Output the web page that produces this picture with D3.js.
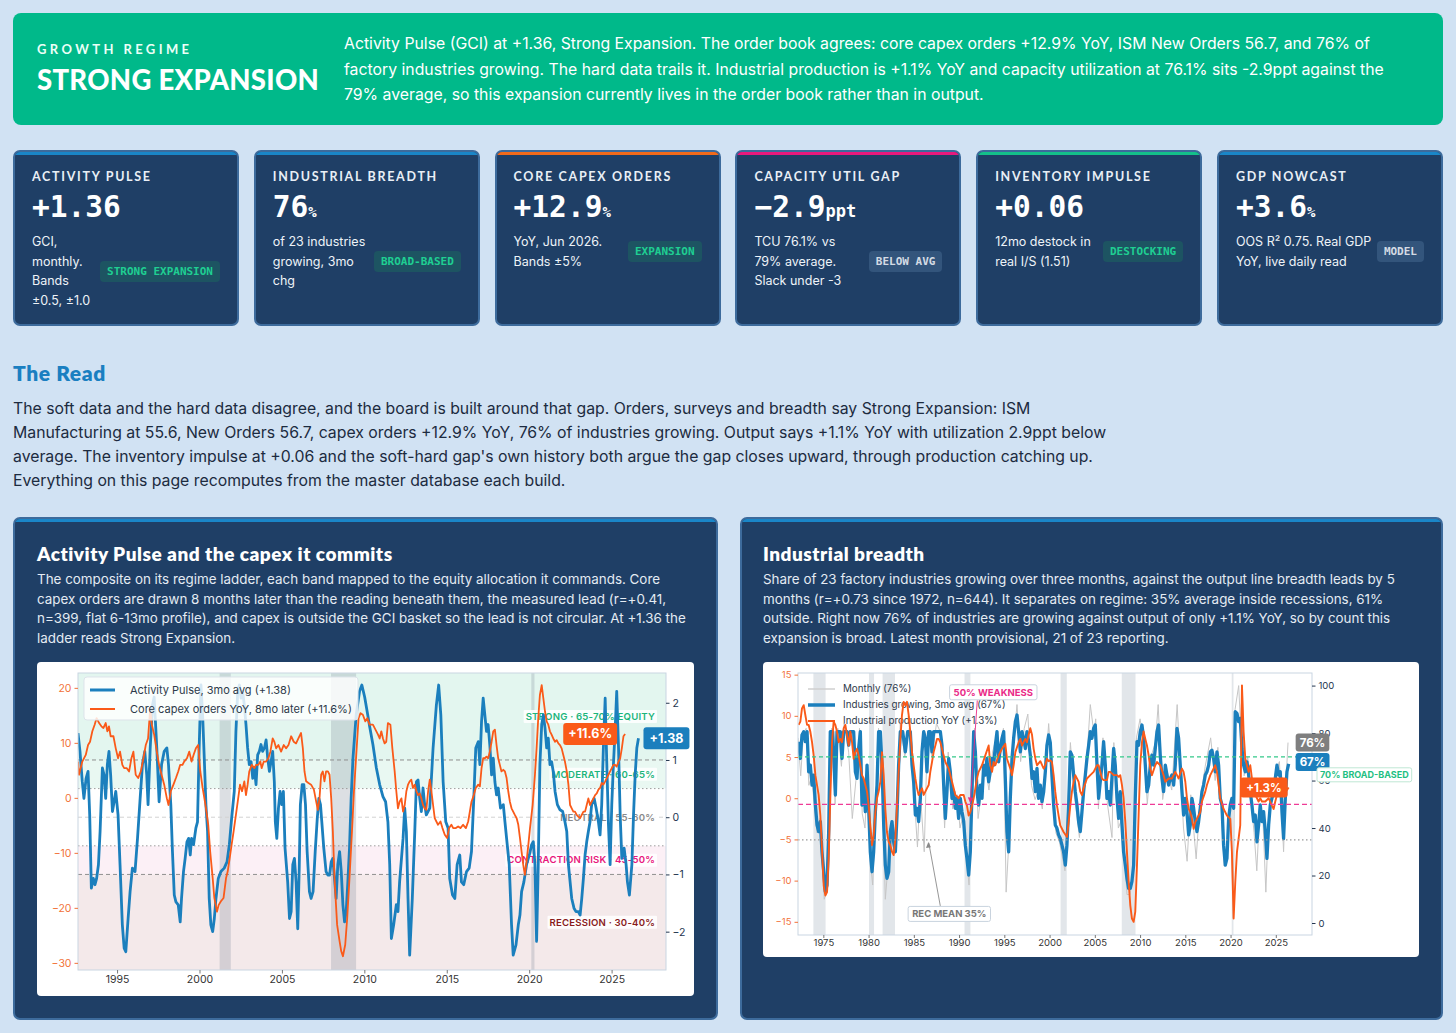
<!DOCTYPE html>
<html>
<head>
<meta charset="utf-8">
<script src="https://cdn.jsdelivr.net/npm/d3@7"></script>
<style>
body{margin:0;background:#d1e2f3;font-family:Inter,"Noto Sans",sans-serif;}
#page{position:relative;width:1456px;height:1033px;overflow:hidden;background:#d1e2f3;}
.abs{position:absolute;}
.banner{left:13px;top:13px;width:1430px;height:112px;background:#00b98a;border-radius:8px;}
.kicker{left:37px;top:41px;font:700 13px Lato,sans-serif;letter-spacing:3.4px;color:#eafff7;line-height:16px;}
.regime{left:37px;top:64px;font:900 27.5px Lato,sans-serif;color:#fff;line-height:32px;letter-spacing:0.3px;}
.bantext{left:344px;top:31px;font-size:15.8px;line-height:25.5px;color:#fff;white-space:nowrap;}
.card{top:150px;width:226px;height:176px;box-sizing:border-box;background:#1f3f66;border:2px solid #3d6b9c;border-radius:7px;overflow:hidden;}
.accent{position:absolute;left:0;right:0;top:0;height:3px;}
.klabel{position:absolute;left:17px;top:18px;font:700 12.5px Lato,sans-serif;letter-spacing:1.7px;color:#e9eff6;line-height:14px;white-space:nowrap;}
.kval{position:absolute;left:17px;top:39px;font:700 29.5px "DejaVu Sans Mono",monospace;color:#fff;line-height:32px;white-space:nowrap;}
.krow{position:absolute;left:17px;right:17px;top:80px;display:flex;align-items:center;justify-content:space-between;}
.kdesc{font-size:12.5px;line-height:19.5px;color:#eef3f8;white-space:nowrap;}
.badge{font:700 11px "DejaVu Sans Mono",monospace;padding:0 7px;height:21px;line-height:21px;border-radius:4px;white-space:nowrap;}
.badge.green{color:#1fcf92;background:#1d5462;}
.badge.grey{color:#d4dbe4;background:#33557c;}
.readh{left:13px;top:361px;font:800 21px Lato,sans-serif;color:#1a7fc1;line-height:24px;letter-spacing:0.6px;}
.readp{left:13px;top:397px;font-size:15.8px;line-height:24px;color:#1c2b40;white-space:nowrap;}
.panel{top:517px;height:503px;box-sizing:border-box;background:#1f3f66;border:2px solid #3d6b9c;border-radius:7px;overflow:hidden;}
.panel .accent{background:#1a86c8;}
.ptitle{top:543px;font:800 19px Lato,sans-serif;color:#fff;line-height:22px;white-space:nowrap;letter-spacing:0.5px;}
.pdesc{top:570px;font-size:13.4px;line-height:19.5px;color:#e4ebf3;white-space:nowrap;}
.cbox{background:#fff;border-radius:4px;overflow:hidden;}
svg text{font-family:Inter,"Noto Sans",sans-serif;}
</style>
</head>
<body>
<div id="page">
  <div class="abs banner"></div>
  <div class="abs kicker">GROWTH REGIME</div>
  <div class="abs regime">STRONG EXPANSION</div>
  <div class="abs bantext" id="bantext"></div>
  <div class="abs readh">The Read</div>
  <div class="abs readp" id="readp"></div>
  <div class="abs panel" style="left:13px;width:705px"><div class="accent"></div></div>
  <div class="abs panel" style="left:740px;width:703px"><div class="accent"></div></div>
  <div class="abs ptitle" style="left:37px">Activity Pulse and the capex it commits</div>
  <div class="abs ptitle" style="left:763px">Industrial breadth</div>
  <div class="abs pdesc" id="desc1" style="left:37px"></div>
  <div class="abs pdesc" id="desc2" style="left:763px"></div>
  <div class="abs cbox" style="left:37px;top:662px;width:657px;height:334px"><svg id="chart1"></svg></div>
  <div class="abs cbox" style="left:763px;top:662px;width:656px;height:295px"><svg id="chart2"></svg></div>
</div>
<script>
// ---------- text ----------
const bannerLines = [
  "Activity Pulse (GCI) at +1.36, Strong Expansion. The order book agrees: core capex orders +12.9% YoY, ISM New Orders 56.7, and 76% of",
  "factory industries growing. The hard data trails it. Industrial production is +1.1% YoY and capacity utilization at 76.1% sits -2.9ppt against the",
  "79% average, so this expansion currently lives in the order book rather than in output."
];
const readLines = [
  "The soft data and the hard data disagree, and the board is built around that gap. Orders, surveys and breadth say Strong Expansion: ISM",
  "Manufacturing at 55.6, New Orders 56.7, capex orders +12.9% YoY, 76% of industries growing. Output says +1.1% YoY with utilization 2.9ppt below",
  "average. The inventory impulse at +0.06 and the soft-hard gap's own history both argue the gap closes upward, through production catching up.",
  "Everything on this page recomputes from the master database each build."
];
const pulseDesc = [
  "The composite on its regime ladder, each band mapped to the equity allocation it commands. Core",
  "capex orders are drawn 8 months later than the reading beneath them, the measured lead (r=+0.41,",
  "n=399, flat 6-13mo profile), and capex is outside the GCI basket so the lead is not circular. At +1.36 the",
  "ladder reads Strong Expansion."
];
const breadthDesc = [
  "Share of 23 factory industries growing over three months, against the output line breadth leads by 5",
  "months (r=+0.73 since 1972, n=644). It separates on regime: 35% average inside recessions, 61%",
  "outside. Right now 76% of industries are growing against output of only +1.1% YoY, so by count this",
  "expansion is broad. Latest month provisional, 21 of 23 reporting."
];

// ---------- KPI cards ----------
const kpiLabels = ["ACTIVITY PULSE","INDUSTRIAL BREADTH","CORE CAPEX ORDERS","CAPACITY UTIL GAP","INVENTORY IMPULSE","GDP NOWCAST"];
const kpiValues = ["+1.36","76","+12.9","\u22122.9","+0.06","+3.6"];
const kpiUnits = ["","%","%","ppt","","%"];
const kpiDesc = [
  ["GCI,","monthly.","Bands","\u00b10.5, \u00b11.0"],
  ["of 23 industries","growing, 3mo","chg"],
  ["YoY, Jun 2026.","Bands \u00b15%"],
  ["TCU 76.1% vs","79% average.","Slack under -3"],
  ["12mo destock in","real I/S (1.51)"],
  ["OOS R\u00b2 0.75. Real GDP","YoY, live daily read"]
];
const kpiBadges = ["STRONG EXPANSION","BROAD-BASED","EXPANSION","BELOW AVG","DESTOCKING","MODEL"];

// ---------- chart 1: Activity Pulse (right axis) and capex YoY 8mo later (left axis) ----------
const pulse = [[1992.63,1.47],[1992.75,1.15],[1992.89,0.62],[1992.99,0.33],[1993.12,0.68],[1993.24,0.80],[1993.34,0.04],[1993.44,-1.24],[1993.56,-1.07],[1993.66,-1.18],[1993.76,-1.07],[1993.87,-0.83],[1993.97,-0.25],[1994.11,0.86],[1994.21,0.74],[1994.31,0.33],[1994.41,0.92],[1994.51,1.15],[1994.61,0.74],[1994.72,0.10],[1994.82,0.27],[1994.92,0.45],[1995.06,0.04],[1995.18,-0.83],[1995.32,-1.88],[1995.43,-2.29],[1995.53,-2.35],[1995.67,-1.77],[1995.79,-1.30],[1995.93,-0.89],[1996.09,-0.95],[1996.24,-0.37],[1996.40,0.33],[1996.54,0.92],[1996.68,1.15],[1996.80,0.74],[1996.88,0.22],[1997.01,1.21],[1997.15,1.96],[1997.25,2.10],[1997.41,1.21],[1997.55,0.27],[1997.70,0.92],[1997.86,1.15],[1998.02,1.21],[1998.12,0.92],[1998.26,0.22],[1998.36,-0.60],[1998.47,-1.36],[1998.57,-1.48],[1998.71,-1.53],[1998.83,-1.83],[1998.91,-1.42],[1999.03,-0.95],[1999.13,-0.72],[1999.24,-0.43],[1999.34,-0.37],[1999.44,-0.66],[1999.52,-0.37],[1999.64,-0.48],[1999.78,-0.19],[1999.88,-0.08],[1999.98,1.21],[2000.09,2.31],[2000.19,1.79],[2000.29,1.03],[2000.39,0.22],[2000.49,-0.25],[2000.59,-1.42],[2000.69,-1.88],[2000.80,-2.00],[2000.90,-1.77],[2001.00,-1.42],[2001.14,-1.07],[2001.30,-0.95],[2001.50,-0.89],[2001.67,-0.78],[2001.81,-0.48],[2001.95,-0.02],[2002.11,0.45],[2002.21,1.50],[2002.32,2.20],[2002.42,2.31],[2002.52,2.08],[2002.62,2.20],[2002.72,1.96],[2002.82,1.62],[2002.92,1.21],[2003.02,0.92],[2003.13,0.97],[2003.23,0.68],[2003.33,0.86],[2003.43,0.57],[2003.53,1.09],[2003.63,1.15],[2003.73,1.27],[2003.83,1.15],[2003.94,1.21],[2004.04,1.35],[2004.14,1.03],[2004.24,0.80],[2004.34,0.97],[2004.44,1.15],[2004.54,0.62],[2004.60,-0.08],[2004.69,-0.37],[2004.79,0.16],[2004.89,0.45],[2004.99,0.22],[2005.09,0.45],[2005.19,-0.54],[2005.35,-1.13],[2005.46,-1.77],[2005.56,-1.65],[2005.66,-0.83],[2005.76,-0.72],[2005.86,-1.13],[2005.96,-1.95],[2006.05,-0.90],[2006.12,0.22],[2006.23,0.57],[2006.33,0.57],[2006.43,0.22],[2006.53,-0.60],[2006.67,-1.30],[2006.77,-1.42],[2006.89,-1.30],[2007.02,-0.60],[2007.14,-0.04],[2007.24,0.33],[2007.34,0.22],[2007.42,-0.08],[2007.54,-0.54],[2007.68,-0.95],[2007.79,-1.01],[2007.89,-1.01],[2007.99,-0.78],[2008.09,-0.72],[2008.19,-1.07],[2008.29,-1.42],[2008.39,-0.83],[2008.50,-0.60],[2008.60,-0.95],[2008.70,-1.53],[2008.80,-1.83],[2008.90,-1.65],[2009.00,-1.13],[2009.10,-0.54],[2009.20,0.33],[2009.31,1.03],[2009.51,1.80],[2009.71,2.20],[2009.85,2.31],[2010.02,2.10],[2010.20,1.80],[2010.32,1.59],[2010.52,1.27],[2010.73,0.86],[2010.93,0.57],[2011.13,0.36],[2011.29,0.27],[2011.43,-0.08],[2011.54,-0.83],[2011.64,-2.12],[2011.78,-1.88],[2011.94,-1.53],[2012.04,-1.65],[2012.14,-1.13],[2012.35,-0.37],[2012.45,0.16],[2012.55,-0.25],[2012.65,-1.42],[2012.75,-2.41],[2012.91,-1.42],[2013.06,-0.25],[2013.16,0.62],[2013.26,0.65],[2013.36,0.33],[2013.46,0.10],[2013.56,0.51],[2013.66,0.22],[2013.76,0.04],[2013.97,0.16],[2014.17,1.21],[2014.37,1.96],[2014.51,2.31],[2014.64,1.79],[2014.78,0.62],[2014.94,-0.08],[2015.08,-0.19],[2015.18,-1.07],[2015.35,-1.36],[2015.49,-1.42],[2015.63,-0.83],[2015.79,-0.66],[2015.89,-1.13],[2016.03,-1.18],[2016.20,-0.95],[2016.36,-0.89],[2016.50,-0.60],[2016.64,0.33],[2016.76,1.21],[2016.91,1.32],[2017.01,0.92],[2017.11,1.67],[2017.21,2.08],[2017.31,1.79],[2017.41,1.50],[2017.51,1.62],[2017.61,1.27],[2017.72,0.74],[2017.82,1.03],[2017.92,0.62],[2018.02,0.39],[2018.12,0.51],[2018.26,0.16],[2018.43,0.22],[2018.53,-0.08],[2018.63,-0.37],[2018.79,-0.83],[2018.93,-1.88],[2019.03,-2.41],[2019.20,-2.23],[2019.34,-1.88],[2019.44,-1.71],[2019.54,-1.30],[2019.68,-1.13],[2019.84,-0.83],[2020.01,-0.66],[2020.15,-0.48],[2020.25,-0.43],[2020.35,-0.83],[2020.45,-2.17],[2020.55,-0.83],[2020.65,0.92],[2020.76,1.62],[2020.86,1.79],[2020.96,1.56],[2021.06,1.21],[2021.16,1.38],[2021.26,0.92],[2021.36,0.97],[2021.46,0.80],[2021.57,0.45],[2021.71,0.22],[2021.87,0.13],[2022.03,0.10],[2022.17,-0.08],[2022.28,-0.25],[2022.38,-0.83],[2022.58,-1.42],[2022.72,-1.59],[2022.84,-1.65],[2022.98,-1.65],[2023.09,-1.71],[2023.19,-1.42],[2023.29,-1.07],[2023.39,-0.66],[2023.49,-0.43],[2023.59,-0.25],[2023.69,-0.08],[2023.79,0.22],[2023.94,0.33],[2024.06,0.16],[2024.20,-0.08],[2024.30,-0.31],[2024.40,0.22],[2024.50,1.21],[2024.61,2.08],[2024.71,0.92],[2024.81,-0.13],[2024.91,-0.83],[2025.01,0.22],[2025.11,0.92],[2025.21,1.50],[2025.31,2.20],[2025.42,1.21],[2025.52,0.04],[2025.62,-0.72],[2025.76,-0.54],[2025.88,-0.83],[2025.96,-1.13],[2026.08,-1.36],[2026.23,-0.83],[2026.33,0.04],[2026.43,0.74],[2026.53,1.21],[2026.63,1.38]];

const capex = [[1992.63,6.6],[1992.69,4.2],[1992.89,6.6],[1993.10,7.8],[1993.24,9.6],[1993.36,10.2],[1993.50,12.1],[1993.64,13.3],[1993.76,14.5],[1993.91,13.6],[1994.05,13.0],[1994.17,12.7],[1994.31,13.6],[1994.41,12.1],[1994.51,13.0],[1994.61,11.2],[1994.78,11.2],[1994.92,9.0],[1995.06,7.2],[1995.18,8.4],[1995.32,6.0],[1995.43,5.4],[1995.59,5.4],[1995.73,4.8],[1995.87,7.2],[1995.99,8.4],[1996.13,4.2],[1996.28,3.6],[1996.44,4.8],[1996.60,7.2],[1996.74,9.6],[1996.88,10.8],[1997.01,16.3],[1997.11,13.3],[1997.25,11.5],[1997.41,8.4],[1997.55,6.0],[1997.70,4.2],[1997.86,2.4],[1998.02,-0.1],[1998.12,-1.3],[1998.26,1.2],[1998.42,2.4],[1998.57,3.6],[1998.71,4.8],[1998.83,6.0],[1998.97,6.0],[1999.07,6.6],[1999.24,7.2],[1999.38,8.4],[1999.52,6.6],[1999.64,7.8],[1999.78,9.0],[1999.92,9.6],[2000.05,4.8],[2000.19,1.8],[2000.33,-0.7],[2000.45,-3.1],[2000.53,-4.9],[2000.65,-9.8],[2000.80,-14.6],[2000.90,-18.2],[2001.06,-20.7],[2001.16,-19.5],[2001.30,-18.8],[2001.46,-18.2],[2001.61,-14.6],[2001.71,-13.4],[2001.83,-11.0],[2001.95,-8.5],[2002.07,-6.1],[2002.21,-3.1],[2002.32,-0.7],[2002.46,2.4],[2002.58,1.2],[2002.72,3.0],[2002.82,0.5],[2002.92,2.4],[2003.02,4.8],[2003.17,6.0],[2003.33,5.4],[2003.43,6.0],[2003.57,6.0],[2003.69,6.6],[2003.77,5.4],[2003.90,6.6],[2004.04,6.6],[2004.18,7.2],[2004.30,8.4],[2004.44,10.8],[2004.54,10.2],[2004.65,9.0],[2004.79,9.6],[2004.95,8.4],[2005.11,9.6],[2005.25,9.0],[2005.40,9.6],[2005.56,11.2],[2005.72,10.2],[2005.86,9.9],[2006.00,10.8],[2006.16,11.8],[2006.27,9.0],[2006.37,4.8],[2006.47,3.0],[2006.61,2.7],[2006.77,2.4],[2006.94,1.5],[2007.08,-0.7],[2007.18,-2.2],[2007.28,-0.1],[2007.38,4.2],[2007.48,4.8],[2007.58,3.0],[2007.68,4.8],[2007.79,4.8],[2007.89,4.2],[2007.99,-0.1],[2008.09,-6.1],[2008.19,-14.6],[2008.35,-23.1],[2008.50,-26.1],[2008.60,-27.9],[2008.70,-28.8],[2008.84,-26.7],[2008.96,-21.9],[2009.10,-14.6],[2009.25,-6.1],[2009.37,1.2],[2009.51,7.8],[2009.65,14.5],[2009.77,15.4],[2009.91,15.1],[2010.06,13.9],[2010.18,14.5],[2010.32,13.3],[2010.52,13.3],[2010.73,12.1],[2010.83,11.5],[2010.93,10.8],[2011.03,12.1],[2011.13,10.8],[2011.23,9.9],[2011.33,10.2],[2011.43,13.6],[2011.58,13.3],[2011.70,9.0],[2011.84,4.8],[2011.94,1.2],[2012.04,-1.9],[2012.14,-0.7],[2012.25,-0.1],[2012.35,-2.5],[2012.45,-1.3],[2012.55,1.2],[2012.65,2.4],[2012.75,3.0],[2012.85,3.3],[2012.95,1.8],[2013.06,2.4],[2013.16,1.2],[2013.26,0.5],[2013.36,0.8],[2013.46,-0.1],[2013.56,-1.3],[2013.66,-1.9],[2013.76,-2.2],[2013.87,1.2],[2013.97,3.3],[2014.07,1.2],[2014.17,-1.3],[2014.27,-3.7],[2014.37,-4.3],[2014.47,-4.9],[2014.62,-4.3],[2014.74,-5.5],[2014.88,-6.7],[2015.02,-7.3],[2015.14,-5.5],[2015.28,-4.9],[2015.39,-5.5],[2015.55,-5.5],[2015.69,-5.2],[2015.83,-5.5],[2015.99,-4.9],[2016.16,-5.5],[2016.30,-4.3],[2016.40,-2.5],[2016.50,-0.7],[2016.64,0.5],[2016.76,1.8],[2016.91,2.4],[2017.01,2.1],[2017.11,5.4],[2017.21,7.2],[2017.31,7.2],[2017.41,7.5],[2017.51,7.2],[2017.61,8.4],[2017.72,10.2],[2017.82,12.1],[2017.92,12.4],[2018.02,9.6],[2018.12,7.2],[2018.22,6.0],[2018.32,4.8],[2018.43,5.1],[2018.53,4.8],[2018.63,3.6],[2018.73,1.2],[2018.83,-0.7],[2018.93,-1.9],[2019.03,-2.5],[2019.13,-3.1],[2019.24,-3.7],[2019.34,-4.9],[2019.44,-7.3],[2019.54,-9.8],[2019.64,-12.2],[2019.74,-14.0],[2019.84,-11.6],[2019.95,-8.5],[2020.05,-5.5],[2020.21,-1.3],[2020.35,4.2],[2020.45,9.0],[2020.55,14.5],[2020.65,18.7],[2020.76,20.5],[2020.86,18.1],[2020.96,15.7],[2021.06,13.9],[2021.16,13.3],[2021.26,12.1],[2021.36,11.5],[2021.46,10.8],[2021.57,10.2],[2021.67,10.5],[2021.77,9.9],[2021.87,9.6],[2021.97,9.0],[2022.07,7.8],[2022.17,6.6],[2022.28,4.8],[2022.38,2.4],[2022.48,-1.3],[2022.58,-1.9],[2022.68,-2.5],[2022.78,-2.5],[2022.88,-3.1],[2022.98,-3.4],[2023.09,-3.7],[2023.19,-3.1],[2023.29,-2.5],[2023.39,-2.5],[2023.49,-1.3],[2023.59,-0.1],[2023.69,-1.3],[2023.79,-0.7],[2023.90,-0.1],[2024.00,0.5],[2024.10,0.8],[2024.20,1.5],[2024.30,1.8],[2024.40,2.7],[2024.50,2.4],[2024.61,3.0],[2024.71,3.6],[2024.81,4.2],[2024.91,4.8],[2025.01,5.4],[2025.11,6.0],[2025.21,6.0],[2025.31,5.7],[2025.42,6.6],[2025.52,7.2],[2025.62,9.0],[2025.72,11.2],[2025.82,11.6]];

const gciEdges = [1.0, 0.5, -0.5, -1.0];
const gciBands = ["STRONG \u00b7 65-70% EQUITY","MODERATE \u00b7 60-65%","NEUTRAL \u00b7 55-60%","CONTRACTION RISK \u00b7 45-50%","RECESSION \u00b7 30-40%"];
const pulseTicksL = [-30,-20,-10,0,10,20];
const pulseTicksR = [-2,-1,0,1,2];
const pulseYears = [1995,2000,2005,2010,2015,2020,2025];

// ---------- chart 2: breadth (right axis) and industrial production YoY (left axis) ----------
const breadth = [[1972.27,76.4],[1972.46,69.3],[1972.64,79.2],[1972.83,80.6],[1973.01,76.4],[1973.20,80.6],[1973.38,63.7],[1973.56,66.5],[1973.75,58.1],[1973.93,62.3],[1974.12,49.7],[1974.30,41.3],[1974.48,38.5],[1974.67,42.7],[1974.85,30.0],[1975.04,21.6],[1975.22,13.2],[1975.41,16.0],[1975.59,38.5],[1975.77,80.6],[1976.03,80.6],[1976.33,53.9],[1976.51,80.6],[1976.88,80.6],[1977.06,69.3],[1977.25,80.6],[1977.62,80.6],[1977.80,74.9],[1977.98,80.6],[1978.35,80.6],[1978.54,63.7],[1978.72,60.9],[1978.90,73.5],[1979.09,80.6],[1979.27,49.7],[1979.46,59.5],[1979.64,46.9],[1979.83,66.5],[1980.01,48.3],[1980.19,30.0],[1980.38,21.6],[1980.56,30.0],[1980.75,46.9],[1980.93,58.1],[1981.11,80.6],[1981.30,80.6],[1981.48,66.5],[1981.67,41.3],[1981.85,24.4],[1982.03,18.8],[1982.22,21.6],[1982.40,38.5],[1982.59,42.7],[1982.77,34.2],[1982.96,30.0],[1983.14,45.5],[1983.32,66.5],[1983.51,80.6],[1983.77,80.6],[1984.06,72.1],[1984.32,80.6],[1984.61,80.6],[1984.80,66.5],[1984.98,59.5],[1985.17,45.5],[1985.35,48.3],[1985.53,42.7],[1985.72,52.5],[1985.90,72.1],[1986.09,80.6],[1986.27,77.8],[1986.45,63.7],[1986.64,80.6],[1986.82,80.6],[1987.01,72.1],[1987.19,80.6],[1987.93,80.6],[1988.11,74.9],[1988.30,58.1],[1988.48,44.1],[1988.66,55.3],[1988.85,69.3],[1989.03,63.7],[1989.22,52.5],[1989.40,55.3],[1989.59,48.3],[1989.77,52.5],[1989.95,44.1],[1990.14,52.5],[1990.32,46.9],[1990.51,42.7],[1990.69,32.8],[1990.87,27.2],[1991.06,20.2],[1991.24,30.0],[1991.43,55.3],[1991.61,80.6],[1991.80,72.1],[1991.98,55.3],[1992.16,49.7],[1992.35,58.1],[1992.53,52.5],[1992.72,66.5],[1992.90,62.3],[1993.08,69.3],[1993.27,59.5],[1993.45,63.7],[1993.64,69.3],[1993.82,66.5],[1994.01,74.9],[1994.19,80.6],[1994.37,67.9],[1994.56,73.5],[1994.74,77.8],[1994.93,80.6],[1995.11,60.9],[1995.29,38.5],[1995.48,30.0],[1995.66,52.5],[1995.85,69.3],[1996.03,77.8],[1996.22,84.8],[1996.40,87.6],[1996.58,80.6],[1996.77,72.1],[1996.95,80.6],[1997.14,77.8],[1997.32,73.5],[1997.50,80.6],[1997.69,76.4],[1997.87,70.7],[1998.06,60.9],[1998.24,63.7],[1998.43,55.3],[1998.61,65.1],[1998.79,52.5],[1998.98,58.1],[1999.16,51.1],[1999.35,55.3],[1999.53,63.7],[1999.71,74.9],[1999.90,79.2],[2000.08,76.0],[2000.26,62.3],[2000.45,49.7],[2000.63,41.3],[2000.82,39.9],[2001.00,37.1],[2001.18,35.6],[2001.37,32.8],[2001.55,30.0],[2001.74,24.4],[2001.92,32.8],[2002.11,49.7],[2002.29,72.1],[2002.47,70.7],[2002.66,62.3],[2002.84,55.3],[2003.03,49.7],[2003.21,42.7],[2003.39,38.5],[2003.58,46.9],[2003.76,55.3],[2003.95,62.3],[2004.13,69.3],[2004.32,74.9],[2004.50,80.6],[2004.68,77.8],[2004.87,82.0],[2005.05,83.4],[2005.24,66.5],[2005.42,52.5],[2005.60,59.5],[2005.79,66.5],[2005.97,76.4],[2006.16,66.5],[2006.34,52.5],[2006.53,55.3],[2006.71,49.7],[2006.89,60.9],[2007.08,73.5],[2007.26,66.5],[2007.45,52.5],[2007.63,44.1],[2007.81,55.3],[2008.00,41.3],[2008.18,30.0],[2008.37,24.4],[2008.55,18.8],[2008.74,14.6],[2008.92,14.6],[2009.10,17.4],[2009.29,24.4],[2009.47,52.5],[2009.66,76.4],[2009.84,74.9],[2010.02,80.6],[2010.21,83.4],[2010.39,77.8],[2010.58,66.5],[2010.76,55.3],[2010.95,58.1],[2011.13,66.5],[2011.31,70.7],[2011.50,66.5],[2011.68,73.5],[2011.87,80.6],[2012.05,83.4],[2012.23,70.7],[2012.42,60.9],[2012.60,55.3],[2012.79,66.5],[2012.97,62.3],[2013.16,58.1],[2013.34,60.9],[2013.52,62.3],[2013.71,58.1],[2013.89,66.5],[2014.08,82.0],[2014.26,77.8],[2014.44,66.5],[2014.63,55.3],[2014.81,45.5],[2015.00,52.5],[2015.18,46.9],[2015.37,37.1],[2015.55,41.3],[2015.73,52.5],[2015.92,48.3],[2016.10,42.7],[2016.29,38.5],[2016.47,42.7],[2016.65,48.3],[2016.84,55.3],[2017.02,58.1],[2017.21,62.3],[2017.39,63.7],[2017.58,66.5],[2017.76,72.1],[2017.94,72.8],[2018.13,69.3],[2018.31,63.7],[2018.50,72.1],[2018.68,66.5],[2018.86,52.5],[2019.05,49.7],[2019.23,32.8],[2019.42,24.4],[2019.60,27.2],[2019.79,44.1],[2019.97,49.7],[2020.15,52.5],[2020.34,48.3],[2020.52,89.0],[2020.71,88.3],[2020.89,84.8],[2021.07,86.2],[2021.26,73.5],[2021.44,66.5],[2021.63,63.7],[2021.81,67.9],[2022.00,62.3],[2022.18,55.3],[2022.36,49.7],[2022.55,42.7],[2022.73,45.5],[2022.92,34.2],[2023.10,41.3],[2023.28,49.7],[2023.47,42.7],[2023.65,46.9],[2023.84,38.5],[2024.02,27.2],[2024.21,41.3],[2024.39,49.7],[2024.57,52.5],[2024.76,55.3],[2024.94,60.9],[2025.13,66.5],[2025.31,62.3],[2025.49,63.7],[2025.68,46.9],[2025.86,35.6],[2026.05,52.5],[2026.23,63.7],[2026.42,67.0]];

const breadthMonthly = [[1972.2,78],[1972.5,62],[1972.8,80],[1973.1,82],[1973.4,58],[1973.7,62],[1974.0,50],[1974.3,38],[1974.6,44],[1974.9,26],[1975.1,10],[1975.4,14],[1975.7,60],[1975.9,82],[1976.3,50],[1976.6,82],[1977.0,66],[1977.3,84],[1977.8,72],[1978.2,44],[1978.6,60],[1979.0,82],[1979.3,46],[1979.6,40],[1979.9,64],[1980.2,26],[1980.45,16],[1980.8,50],[1981.1,82],[1981.5,60],[1981.85,10],[1982.1,22],[1982.4,40],[1982.8,30],[1983.2,50],[1983.5,84],[1984.0,70],[1984.5,82],[1985.0,56],[1985.4,32],[1985.7,56],[1986.15,30],[1986.5,80],[1987.0,70],[1987.5,84],[1988.0,80],[1988.4,40],[1988.8,72],[1989.3,48],[1989.8,54],[1990.1,40],[1990.5,46],[1990.9,24],[1991.1,16],[1991.5,60],[1991.7,82],[1992.1,44],[1992.5,56],[1992.9,66],[1993.3,56],[1993.7,72],[1994.1,78],[1994.5,70],[1994.9,82],[1995.2,13],[1995.5,34],[1995.9,70],[1996.4,92],[1996.8,68],[1997.2,82],[1997.6,88],[1998.0,58],[1998.4,52],[1998.8,56],[1999.2,48],[1999.6,68],[1999.9,84],[2000.3,60],[2000.7,38],[2001.1,34],[2001.7,22],[2002.0,48],[2002.3,76],[2002.8,52],[2003.3,36],[2003.8,58],[2004.2,74],[2004.5,92],[2004.9,80],[2005.1,86],[2005.4,48],[2005.9,78],[2006.4,50],[2006.9,36],[2007.1,76],[2007.6,40],[2008.0,44],[2008.4,22],[2008.55,12],[2008.9,12],[2009.2,22],[2009.6,78],[2010.0,86],[2010.4,76],[2010.8,50],[2011.2,70],[2011.7,76],[2012.0,92],[2012.5,52],[2013.0,64],[2013.5,56],[2014.1,92],[2014.5,62],[2014.8,40],[2015.2,26],[2015.6,54],[2016.2,27],[2016.6,50],[2017.2,66],[2017.8,78],[2018.3,60],[2018.6,74],[2019.0,46],[2019.3,24],[2019.6,30],[2020.0,52],[2020.3,2],[2020.5,90],[2020.9,100],[2021.1,84],[2021.3,100],[2021.5,62],[2021.9,70],[2022.3,50],[2022.6,38],[2022.9,22],[2023.2,46],[2023.6,42],[2023.9,13],[2024.2,44],[2024.6,56],[2025.0,64],[2025.4,68],[2025.86,30],[2026.1,58],[2026.35,76]];

const ipYoy = [[1972.27,8.9],[1972.46,9.3],[1972.64,10.9],[1972.83,11.3],[1973.01,10.1],[1973.20,8.9],[1973.38,8.9],[1973.56,8.1],[1973.75,6.8],[1973.93,5.2],[1974.12,2.8],[1974.30,1.6],[1974.48,0.4],[1974.67,-2.1],[1974.85,-6.1],[1975.04,-10.6],[1975.22,-11.8],[1975.41,-11.4],[1975.59,-7.3],[1975.77,0.0],[1975.96,6.8],[1976.14,9.3],[1976.33,8.9],[1976.51,8.1],[1976.69,6.8],[1976.88,7.2],[1977.06,6.8],[1977.25,8.5],[1977.43,8.9],[1977.62,7.7],[1977.80,6.4],[1977.98,8.1],[1978.17,6.8],[1978.35,4.8],[1978.54,5.6],[1978.72,6.0],[1978.90,5.2],[1979.09,4.0],[1979.27,2.8],[1979.46,2.4],[1979.64,1.6],[1979.83,0.8],[1980.01,-0.9],[1980.19,-3.3],[1980.38,-5.7],[1980.56,-4.5],[1980.75,-1.7],[1980.93,0.0],[1981.11,0.8],[1981.30,2.0],[1981.48,5.6],[1981.67,2.8],[1981.85,-1.3],[1982.03,-4.1],[1982.22,-5.3],[1982.40,-5.7],[1982.59,-6.5],[1982.77,-6.9],[1982.96,-4.9],[1983.14,-0.9],[1983.32,3.2],[1983.51,7.2],[1983.69,10.1],[1983.88,11.7],[1984.06,11.3],[1984.24,11.7],[1984.43,10.1],[1984.61,8.1],[1984.80,5.6],[1984.98,4.0],[1985.17,2.4],[1985.35,1.2],[1985.53,0.4],[1985.90,1.2],[1986.09,0.4],[1986.45,1.2],[1986.64,1.6],[1986.82,3.2],[1987.01,4.4],[1987.19,5.6],[1987.38,6.4],[1987.56,7.2],[1987.74,7.2],[1987.93,6.8],[1988.11,6.0],[1988.48,4.4],[1988.85,3.6],[1989.22,2.0],[1989.59,0.4],[1989.95,0.0],[1990.14,0.4],[1990.51,0.4],[1990.69,-0.4],[1990.87,-0.9],[1991.06,-2.1],[1991.24,-1.7],[1991.43,-0.9],[1991.61,0.0],[1991.80,1.2],[1991.98,2.4],[1992.16,3.2],[1992.53,4.0],[1992.90,5.2],[1993.27,6.4],[1993.45,4.0],[1993.64,3.2],[1993.82,4.4],[1994.01,4.0],[1994.37,5.2],[1994.74,6.0],[1995.11,6.6],[1995.29,4.8],[1995.66,3.6],[1995.85,2.8],[1996.03,4.0],[1996.22,5.6],[1996.58,6.8],[1996.77,7.2],[1996.95,6.4],[1997.32,7.2],[1997.50,6.8],[1997.69,7.7],[1997.87,8.5],[1998.06,7.7],[1998.24,6.0],[1998.43,4.8],[1998.61,4.0],[1998.98,4.5],[1999.35,3.6],[1999.53,4.0],[1999.71,4.8],[1999.90,4.5],[2000.08,4.6],[2000.26,4.4],[2000.45,2.8],[2000.63,0.8],[2000.82,-0.9],[2001.00,-2.1],[2001.18,-3.3],[2001.55,-4.1],[2001.92,-4.7],[2002.11,-2.9],[2002.29,-0.9],[2002.47,0.8],[2002.66,2.0],[2002.84,2.8],[2003.21,2.0],[2003.39,0.8],[2003.58,0.4],[2003.76,1.2],[2004.13,2.4],[2004.50,2.8],[2004.87,3.2],[2005.24,4.0],[2005.42,4.0],[2005.79,2.4],[2005.97,2.2],[2006.34,2.2],[2006.53,3.2],[2006.71,3.2],[2007.08,2.8],[2007.45,2.8],[2007.63,2.6],[2007.81,2.8],[2008.00,1.6],[2008.18,0.0],[2008.37,-2.9],[2008.55,-6.5],[2008.74,-10.2],[2008.92,-13.0],[2009.10,-14.6],[2009.29,-15.0],[2009.47,-13.8],[2009.66,-8.1],[2009.84,-2.1],[2010.02,4.0],[2010.21,6.8],[2010.39,8.1],[2010.58,7.2],[2010.76,6.4],[2010.95,5.2],[2011.13,3.6],[2011.31,2.8],[2011.68,4.0],[2011.87,4.4],[2012.23,4.0],[2012.60,2.8],[2012.79,2.0],[2013.16,2.4],[2013.52,2.4],[2013.89,3.2],[2014.08,2.8],[2014.26,2.4],[2014.63,3.6],[2014.81,3.2],[2015.00,2.0],[2015.18,0.0],[2015.37,-1.3],[2015.55,-1.7],[2015.73,-2.5],[2015.92,-3.7],[2016.10,-2.9],[2016.47,-2.1],[2016.65,-1.7],[2016.84,-0.4],[2017.21,0.8],[2017.39,1.6],[2017.76,2.8],[2017.94,3.2],[2018.31,4.0],[2018.50,3.2],[2018.68,1.6],[2018.86,0.0],[2019.23,-1.3],[2019.60,-2.1],[2019.97,-2.5],[2020.15,-6.5],[2020.34,-14.6],[2020.52,-10.2],[2020.71,-6.5],[2020.89,-4.9],[2021.07,-3.3],[2021.26,13.7],[2021.44,8.1],[2021.63,4.8],[2021.81,4.0],[2022.00,3.2],[2022.18,4.0],[2022.36,2.4],[2022.55,0.8],[2022.92,0.0],[2023.10,-0.4],[2023.28,0.0],[2023.47,-0.4],[2023.84,-0.4],[2024.21,0.0],[2024.57,-0.9],[2024.76,-1.3],[2024.94,-0.4],[2025.13,0.4],[2025.31,1.6],[2025.49,2.0],[2025.68,2.4],[2025.86,1.6],[2026.05,1.2],[2026.23,1.0],[2026.42,1.3]];

const recessions = [[1973.9,1975.25],[1980.05,1980.6],[1981.55,1982.92],[1990.6,1991.25],[2001.22,2001.9],[2007.98,2009.5],[2020.13,2020.32]];
const breadthRefs = [70, 50, 35];   // broad-based, weakness, recession mean
const weaknessPoint = [1991.24, 50];
const recMeanPoint = [1986.6, 35];
const breadthTicksL = [-15,-10,-5,0,5,10,15];
const breadthTicksR = [0,20,40,60,80,100];
const breadthYears = [1975,1980,1985,1990,1995,2000,2005,2010,2015,2020,2025];

// ---------- colours ----------
const BLUE = "#1b7fbd", ORANGE = "#fa5a19", GREEN = "#1fbf83", PINK = "#ea2a87";
const cardAccent = ["#1a86c8","#1a86c8","#f26a1b","#e8197d","#14c08a","#1a86c8"];
const cardTone = ["green","green","green","grey","green","grey"];
const unitSize = [14,14,14,17,14,14];
const bandFill = ["#e3f6ef","#e9f8f2","#ffffff","#fcf0f6","#f4e9ea"];
const bandText = ["#1db57c","#1db57c","#8a8a8a","#e8177c","#8a1c1c"];

// ---------- page text ----------
d3.select("#bantext").html(bannerLines.join("<br>"));
d3.select("#readp").html(readLines.join("<br>"));
d3.select("#desc1").html(pulseDesc.join("<br>"));
d3.select("#desc2").html(breadthDesc.join("<br>"));

const cards = d3.select("#page").selectAll("div.card").data(kpiLabels).join("div")
  .attr("class", "card abs")
  .style("left", (d, i) => (13 + i * 240.8) + "px");
cards.append("div").attr("class", "accent").style("background", (d, i) => cardAccent[i]);
cards.append("div").attr("class", "klabel").text(d => d);
const kval = cards.append("div").attr("class", "kval");
kval.append("span").text((d, i) => kpiValues[i]);
kval.append("span").style("font-size", (d, i) => unitSize[i] + "px").text((d, i) => kpiUnits[i]);
const krow = cards.append("div").attr("class", "krow");
krow.append("div").attr("class", "kdesc").html((d, i) => kpiDesc[i].join("<br>"));
krow.append("div").attr("class", (d, i) => "badge " + cardTone[i]).text((d, i) => kpiBadges[i]);

// ---------- helpers ----------
function tag(parent, x, y, label, o) {
  const g = parent.append("g");
  const r = g.append("rect").attr("rx", o.rx == null ? 3 : o.rx)
    .attr("fill", o.fill).attr("stroke", o.stroke || "none").attr("stroke-width", 1);
  const t = g.append("text").attr("dy", "0.35em").attr("fill", o.color || "#fff")
    .attr("font-size", o.size).attr("font-weight", o.weight || 700)
    .attr("letter-spacing", o.ls || 0).text(label);
  const w = t.node().getComputedTextLength() + 2 * o.padX;
  const x0 = o.anchor === "end" ? x - w : o.anchor === "middle" ? x - w / 2 : x;
  r.attr("x", x0).attr("y", y - o.h / 2).attr("width", w).attr("height", o.h);
  t.attr("x", x0 + o.padX).attr("y", y);
  return { x0: x0, w: w };
}
function styleAxis(g, color, size) {
  g.select(".domain").remove();
  g.attr("font-family", "Inter, sans-serif").attr("font-size", size);
  g.selectAll(".tick line").attr("stroke", color);
  g.selectAll(".tick text").attr("fill", color);
}
const fmtInt = d3.format("d");

// ---------- chart 1 ----------
(function () {
  const W = 657, H = 334, m = { top: 11, right: 28, bottom: 26, left: 41 };
  const svg = d3.select("#chart1").attr("width", W).attr("height", H);
  const x = d3.scaleLinear().domain([1992.63, 2028.3]).range([m.left, W - m.right]);
  const yL = d3.scaleLinear().domain([-31.3, 22.7]).range([H - m.bottom, m.top]);
  const yR = d3.scaleLinear().domain([-2.67, 2.52]).range([H - m.bottom, m.top]);
  const bot = yR.domain()[0], top = yR.domain()[1];

  svg.append("clipPath").attr("id", "clip1").append("rect")
    .attr("x", m.left).attr("y", m.top).attr("width", W - m.left - m.right).attr("height", H - m.top - m.bottom);

  // regime bands, strongest first
  const edges = [top].concat(gciEdges).concat([bot]);
  const bands = gciBands.map((name, i) => ({ name: name, hi: edges[i], lo: edges[i + 1], i: i }));
  svg.append("g").selectAll("rect").data(bands).join("rect")
    .attr("x", m.left).attr("width", W - m.left - m.right)
    .attr("y", d => yR(d.hi)).attr("height", d => yR(d.lo) - yR(d.hi))
    .attr("fill", d => bandFill[d.i]);

  // recessions
  svg.append("g").selectAll("rect").data(recessions.filter(r => r[1] > x.domain()[0])).join("rect")
    .attr("x", d => x(d[0])).attr("width", d => x(d[1]) - x(d[0]))
    .attr("y", m.top).attr("height", H - m.top - m.bottom)
    .attr("fill", "#8c96a3").attr("opacity", 0.3);

  // band edges
  svg.append("g").selectAll("line").data(gciEdges.concat([0])).join("line")
    .attr("x1", m.left).attr("x2", W - m.right)
    .attr("y1", d => yR(d)).attr("y2", d => yR(d))
    .attr("stroke", d => d === 0 ? "#d2d2d2" : (Math.abs(d) === 1 ? "#8f8f8f" : "#9c9c9c"))
    .attr("stroke-width", 1)
    .attr("stroke-dasharray", d => Math.abs(d) === 0.5 ? "1.5,2.5" : "4,3");

  // band labels
  const lab = svg.append("g");
  bands.forEach(b => {
    tag(lab, W - m.right - 9, yR((b.hi + b.lo) / 2), b.name,
      { fill: "rgba(255,255,255,0.85)", color: bandText[b.i], size: 9.6, weight: 600, padX: 2, h: 13, rx: 1, anchor: "end", ls: 0.2 });
  });

  // lines
  const lines = svg.append("g").attr("clip-path", "url(#clip1)");
  lines.append("path").datum(pulse)
    .attr("fill", "none").attr("stroke", BLUE).attr("stroke-width", 2.8).attr("stroke-linejoin", "round")
    .attr("d", d3.line().x(d => x(d[0])).y(d => yR(d[1])));
  lines.append("path").datum(capex)
    .attr("fill", "none").attr("stroke", ORANGE).attr("stroke-width", 1.8).attr("stroke-linejoin", "round")
    .attr("d", d3.line().x(d => x(d[0])).y(d => yL(d[1])));

  // frame
  svg.append("rect").attr("x", m.left).attr("y", m.top)
    .attr("width", W - m.left - m.right).attr("height", H - m.top - m.bottom)
    .attr("fill", "none").attr("stroke", "#c9d5e2");

  // axes
  const gl = svg.append("g").attr("transform", `translate(${m.left},0)`)
    .call(d3.axisLeft(yL).tickValues(pulseTicksL).tickFormat(fmtInt).tickSize(3.5).tickPadding(3));
  styleAxis(gl, "#f2733a", 10.5);
  const gr = svg.append("g").attr("transform", `translate(${W - m.right},0)`)
    .call(d3.axisRight(yR).tickValues(pulseTicksR).tickFormat(fmtInt).tickSize(3.5).tickPadding(3));
  styleAxis(gr, "#24364f", 10.5);
  const gb = svg.append("g").attr("transform", `translate(0,${H - m.bottom})`)
    .call(d3.axisBottom(x).tickValues(pulseYears).tickFormat(fmtInt).tickSize(3.5).tickPadding(2));
  styleAxis(gb, "#333", 10.5);
  gb.selectAll(".tick line").attr("stroke", "#777");

  // legend
  const pLast = pulse[pulse.length - 1], cLast = capex[capex.length - 1];
  const leg = svg.append("g");
  leg.append("rect").attr("x", 47).attr("y", 15).attr("width", 274).attr("height", 43).attr("rx", 3)
    .attr("fill", "rgba(255,255,255,0.82)").attr("stroke", "#dde3ea");
  const legItems = [
    { t: `Activity Pulse, 3mo avg (${d3.format("+.2f")(pLast[1])})`, c: BLUE, w: 3 },
    { t: `Core capex orders YoY, 8mo later (${d3.format("+.1f")(cLast[1])}%)`, c: ORANGE, w: 2 }
  ];
  legItems.forEach((it, i) => {
    const yy = 28 + i * 19;
    leg.append("line").attr("x1", 53).attr("x2", 78).attr("y1", yy).attr("y2", yy)
      .attr("stroke", it.c).attr("stroke-width", it.w);
    leg.append("text").attr("x", 93).attr("y", yy).attr("dy", "0.35em")
      .attr("font-size", 11).attr("fill", "#2d3a4a").text(it.t);
  });

  // end tags
  tag(svg, x(cLast[0]) - 8, yL(cLast[1]), d3.format("+.1f")(cLast[1]) + "%",
    { fill: ORANGE, size: 12.5, padX: 5, h: 22, anchor: "end" });
  tag(svg, x(pLast[0]) + 5, yR(pLast[1]), d3.format("+.2f")(pLast[1]),
    { fill: BLUE, size: 12.5, padX: 6, h: 22, anchor: "start" });
})();

// ---------- chart 2 ----------
(function () {
  const W = 656, H = 295, m = { top: 11, right: 107, bottom: 22, left: 35 };
  const svg = d3.select("#chart2").attr("width", W).attr("height", H);
  const x = d3.scaleLinear().domain([1972.2, 2029.0]).range([m.left, W - m.right]);
  const yL = d3.scaleLinear().domain([-16.6, 15.2]).range([H - m.bottom, m.top]);
  const yR = d3.scaleLinear().domain([-5.05, 105.3]).range([H - m.bottom, m.top]);

  svg.append("clipPath").attr("id", "clip2").append("rect")
    .attr("x", m.left).attr("y", m.top).attr("width", W - m.left - m.right).attr("height", H - m.top - m.bottom);

  svg.append("g").selectAll("rect").data(recessions).join("rect")
    .attr("x", d => x(d[0])).attr("width", d => x(d[1]) - x(d[0]))
    .attr("y", m.top).attr("height", H - m.top - m.bottom)
    .attr("fill", "#8c9aad").attr("opacity", 0.25);

  // legend (no box)
  const bLast = breadth[breadth.length - 1], gLast = breadthMonthly[breadthMonthly.length - 1], iLast = ipYoy[ipYoy.length - 1];
  const legItems = [
    { t: `Monthly (${d3.format(".0f")(gLast[1])}%)`, c: "#cfcfcf", w: 1.5 },
    { t: `Industries growing, 3mo avg (${d3.format(".0f")(bLast[1])}%)`, c: BLUE, w: 3.5 },
    { t: `Industrial production YoY (${d3.format("+.1f")(iLast[1])}%)`, c: ORANGE, w: 2 }
  ];
  const leg = svg.append("g");
  legItems.forEach((it, i) => {
    const yy = 27 + i * 16;
    leg.append("line").attr("x1", 45).attr("x2", 72).attr("y1", yy).attr("y2", yy)
      .attr("stroke", it.c).attr("stroke-width", it.w);
    leg.append("text").attr("x", 80).attr("y", yy).attr("dy", "0.35em")
      .attr("font-size", 9.8).attr("fill", "#2d3a4a").text(it.t);
  });

  const lines = svg.append("g").attr("clip-path", "url(#clip2)");
  lines.append("path").datum(breadthMonthly)
    .attr("fill", "none").attr("stroke", "#c6c6c6").attr("stroke-width", 1)
    .attr("d", d3.line().x(d => x(d[0])).y(d => yR(d[1])));
  lines.append("path").datum(breadth)
    .attr("fill", "none").attr("stroke", BLUE).attr("stroke-width", 3.3).attr("stroke-linejoin", "round")
    .attr("d", d3.line().x(d => x(d[0])).y(d => yR(d[1])));

  // reference lines
  const refStyle = [{ c: "#35c98a", dash: "4,3" }, { c: "#ef3b96", dash: "5,3" }, { c: "#9a9a9a", dash: "1.5,2.5" }];
  svg.append("g").selectAll("line").data(breadthRefs).join("line")
    .attr("x1", m.left).attr("x2", W - m.right)
    .attr("y1", d => yR(d)).attr("y2", d => yR(d))
    .attr("stroke", (d, i) => refStyle[i].c).attr("stroke-width", 1.3)
    .attr("stroke-dasharray", (d, i) => refStyle[i].dash);

  lines.append("path").datum(ipYoy)
    .attr("fill", "none").attr("stroke", ORANGE).attr("stroke-width", 1.9).attr("stroke-linejoin", "round")
    .attr("d", d3.line().x(d => x(d[0])).y(d => yL(d[1])));

  svg.append("rect").attr("x", m.left).attr("y", m.top)
    .attr("width", W - m.left - m.right).attr("height", H - m.top - m.bottom)
    .attr("fill", "none").attr("stroke", "#c9d5e2");

  const gl = svg.append("g").attr("transform", `translate(${m.left},0)`)
    .call(d3.axisLeft(yL).tickValues(breadthTicksL).tickFormat(fmtInt).tickSize(3.5).tickPadding(3));
  styleAxis(gl, "#f2733a", 9.5);
  const gr = svg.append("g").attr("transform", `translate(${W - m.right},0)`)
    .call(d3.axisRight(yR).tickValues(breadthTicksR).tickFormat(fmtInt).tickSize(3.5).tickPadding(3));
  styleAxis(gr, "#24364f", 9.5);
  const gb = svg.append("g").attr("transform", `translate(0,${H - m.bottom})`)
    .call(d3.axisBottom(x).tickValues(breadthYears).tickFormat(fmtInt).tickSize(3).tickPadding(1.5));
  styleAxis(gb, "#333", 9.5);
  gb.selectAll(".tick line").attr("stroke", "#777");

  // annotations
  const ann = svg.append("g");
  const wx = x(weaknessPoint[0]), wy = yR(weaknessPoint[1]);
  ann.append("line").attr("x1", wx + 7).attr("y1", wy - 104).attr("x2", wx).attr("y2", wy - 2)
    .attr("stroke", PINK).attr("stroke-width", 0.9);
  ann.append("path").attr("d", `M${wx - 2.5},${wy - 7}L${wx},${wy - 1}L${wx + 2.8},${wy - 6.6}Z`).attr("fill", PINK);
  tag(ann, wx + 23, wy - 112, "50% WEAKNESS",
    { fill: "#fff", stroke: "#c9d3de", color: PINK, size: 9.5, weight: 700, padX: 4, h: 15, rx: 2, anchor: "middle" });
  const rx = x(recMeanPoint[0]), ry = yR(recMeanPoint[1]);
  ann.append("line").attr("x1", rx + 12).attr("y1", ry + 66).attr("x2", rx + 0.5).attr("y2", ry + 3)
    .attr("stroke", "#8a8a8a").attr("stroke-width", 0.9);
  ann.append("path").attr("d", `M${rx - 2.3},${ry + 8}L${rx},${ry + 2}L${rx + 2.6},${ry + 7.4}Z`).attr("fill", "#8a8a8a");
  tag(ann, rx + 21, ry + 74, "REC MEAN 35%",
    { fill: "#fff", stroke: "#c9d3de", color: "#777", size: 9.5, weight: 700, padX: 4, h: 15, rx: 2, anchor: "middle" });

  // end tags
  tag(svg, x(bLast[0]) + 7, yR(gLast[1]), d3.format(".0f")(gLast[1]) + "%",
    { fill: "#7f7f7f", size: 11.5, padX: 4, h: 18, anchor: "start" });
  tag(svg, x(bLast[0]) + 7, yR(bLast[1]) - 2, d3.format(".0f")(bLast[1]) + "%",
    { fill: BLUE, size: 11.5, padX: 4, h: 18, anchor: "start" });
  tag(svg, W - m.right + 5, yR(breadthRefs[0]) + 18, "70% BROAD-BASED",
    { fill: "#fff", stroke: "#bfe7d4", color: GREEN, size: 9, weight: 700, padX: 3, h: 14, rx: 2, anchor: "start" });
  tag(svg, x(iLast[0]) - 1, yL(iLast[1]), d3.format("+.1f")(iLast[1]) + "%",
    { fill: ORANGE, size: 11.5, padX: 6, h: 20, anchor: "end" });
})();
</script>
</body>
</html>
